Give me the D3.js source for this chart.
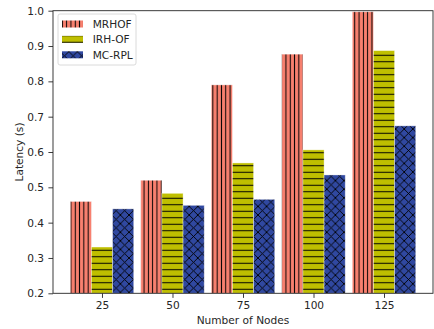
<!DOCTYPE html>
<html>
<head>
<meta charset="utf-8">
<script src="https://cdn.jsdelivr.net/npm/d3@7"></script>
<style>
  html, body { margin: 0; padding: 0; background: #fff; }
  svg text { font-family: "DejaVu Sans", sans-serif; fill: #262626; }
</style>
</head>
<body>
<svg id="chart" width="434" height="329"></svg>
<script>
// Latency per network size for three routing objective functions
const nodes = ["25", "50", "75", "100", "125"];
const seriesNames = ["MRHOF", "IRH-OF", "MC-RPL"];
const mrhof = [0.46, 0.52, 0.79, 0.877, 0.997];
const irhof = [0.331, 0.483, 0.569, 0.606, 0.887];
const mcrpl = [0.439, 0.449, 0.466, 0.535, 0.674];
const yTicks = [0.2, 0.3, 0.4, 0.5, 0.6, 0.7, 0.8, 0.9, 1.0];

const seriesValues = [mrhof, irhof, mcrpl];
const fills = ["#F8806F", "#BFBF00", "#3048A0"];
const patternIds = ["hatchV", "hatchH", "hatchX"];

const FS = 10.6;
const m = { left: 53, right: 433, top: 10.7, bottom: 293.3 };

const svg = d3.select("#chart");
const defs = svg.append("defs");

// Hatch patterns: vertical lines, horizontal lines, crossed diagonals
function makePattern(id, fill, w, h, draw) {
  const p = defs.append("pattern")
    .attr("id", id).attr("patternUnits", "userSpaceOnUse")
    .attr("width", w).attr("height", h);
  p.append("rect").attr("width", w).attr("height", h).attr("fill", fill);
  draw(p, w, h);
}
makePattern("hatchV", fills[0], 4.3, 10, (p, w, h) => {
  p.append("line").attr("x1", w / 2).attr("x2", w / 2).attr("y1", 0).attr("y2", h)
    .attr("stroke", "#000").attr("stroke-width", 1);
});
makePattern("hatchH", fills[1], 10, 6.5, (p, w, h) => {
  p.append("line").attr("x1", 0).attr("x2", w).attr("y1", h / 2).attr("y2", h / 2)
    .attr("stroke", "#000").attr("stroke-width", 1);
});
makePattern("hatchX", fills[2], 8.6, 8.6, (p, w, h) => {
  p.append("path").attr("d", `M0,0L${w},${h}M${w},0L0,${h}`)
    .attr("stroke", "#000").attr("stroke-width", 0.9).attr("fill", "none");
});

// Bars sit at -0.3, 0, +0.3 around each category index, width 0.3
const barW = 0.3;
const x = d3.scaleLinear().domain([-0.695, 4.695]).range([m.left, m.right]);
const y = d3.scaleLinear().domain([0.2, 1.0]).range([m.bottom, m.top]);

const plot = svg.append("g");
plot.append("clipPath").attr("id", "clipArea").append("rect")
  .attr("x", m.left).attr("y", m.top).attr("width", m.right - m.left).attr("height", m.bottom - m.top);

seriesValues.forEach((vals, si) => {
  plot.append("g").attr("clip-path", "url(#clipArea)")
    .selectAll("rect").data(vals).join("rect")
    .attr("x", (d, i) => x(i + (si - 1) * barW - barW / 2))
    .attr("width", x(barW) - x(0))
    .attr("y", d => y(d))
    .attr("height", d => y(0.2) - y(d))
    .attr("fill", `url(#${patternIds[si]})`)
    .attr("stroke", "rgba(255,255,255,0.45)")
    .attr("stroke-width", 0.8);
});

// Axes
const yAxis = d3.axisLeft(y).tickValues(yTicks).tickFormat(d3.format(".1f"))
  .tickSizeOuter(0).tickSize(4.6).tickPadding(4.4);
const xAxis = d3.axisBottom(x).tickValues(d3.range(nodes.length))
  .tickFormat(i => nodes[i]).tickSizeOuter(0).tickSize(4.6).tickPadding(3.8);

const gy = svg.append("g").attr("transform", `translate(${m.left},0)`).call(yAxis);
const gx = svg.append("g").attr("transform", `translate(0,${m.bottom})`).call(xAxis);
[gx, gy].forEach(g => {
  g.select(".domain").remove();
  g.selectAll(".tick line").attr("stroke", "#262626").attr("stroke-width", 0.9);
  g.selectAll(".tick text").attr("font-size", FS).style("fill", "#262626");
});

// Frame
svg.append("rect").attr("x", m.left).attr("y", m.top)
  .attr("width", m.right - m.left).attr("height", m.bottom - m.top)
  .attr("fill", "none").attr("stroke", "#262626").attr("stroke-width", 0.9);

// Axis titles
svg.append("text").attr("x", (m.left + m.right) / 2).attr("y", 324)
  .attr("text-anchor", "middle").attr("font-size", FS).text("Number of Nodes");
svg.append("text").attr("transform", `translate(22.5,${(m.top + m.bottom) / 2}) rotate(-90)`)
  .attr("text-anchor", "middle").attr("font-size", FS).text("Latency (s)");

// Legend
const lg = svg.append("g");
lg.append("rect").attr("x", 58).attr("y", 14).attr("width", 78).attr("height", 51)
  .attr("rx", 2).attr("fill", "rgba(255,255,255,0.8)").attr("stroke", "#d0d0d0").attr("stroke-width", 0.8);
seriesNames.forEach((name, i) => {
  const cy = 24 + i * 15.4;
  lg.append("rect").attr("x", 62).attr("y", cy - 3.5).attr("width", 21).attr("height", 7)
    .attr("fill", `url(#${patternIds[i]})`);
  lg.append("text").attr("x", 92.7).attr("y", cy + 3.8).attr("font-size", FS).text(name);
});
</script>
</body>
</html>
